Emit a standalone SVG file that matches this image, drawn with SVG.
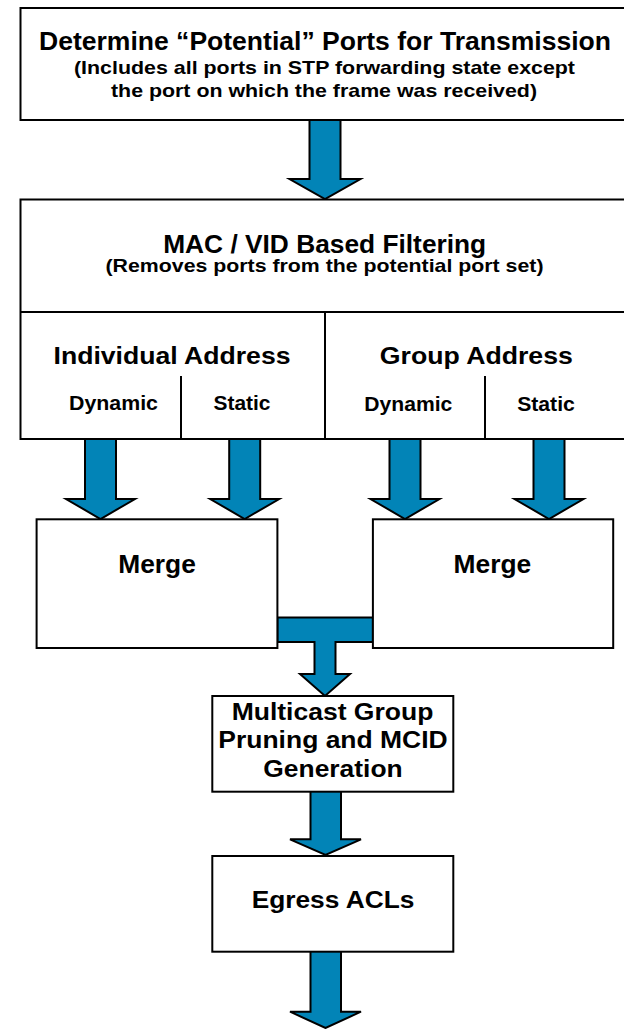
<svg xmlns="http://www.w3.org/2000/svg" width="624" height="1029" viewBox="0 0 624 1029">
<style>
.box{fill:#fff;stroke:#000;stroke-width:2}
.ln{stroke:#000;stroke-width:2;fill:none}
.arr{fill:#0284b7;stroke:#000;stroke-width:2;stroke-linejoin:miter}
text{font-family:"Liberation Sans",Arial,Helvetica,sans-serif;font-weight:bold;fill:#000;text-anchor:middle}
.h1{font-size:25px}
.s1{font-size:18.5px}
.h2{font-size:24.5px}
.sm{font-size:20.5px}
.mg{font-size:26px}
.bx{font-size:23.5px}
</style>
<rect width="624" height="1029" fill="#fff"/>
<g id="connectors">
<path class="arr" d="M309.5,120 V179 H289.5 L325,199 L360.5,179 H340.5 V120"/>
<path class="arr" d="M85,439 V499 H66 L100.5,519 L135,499 H116 V439"/>
<path class="arr" d="M229.2,439 V499 H210.2 L244.7,519 L279.2,499 H260.2 V439"/>
<path class="arr" d="M389.5,439 V499 H370.5 L405,519 L439.5,499 H420.5 V439"/>
<path class="arr" d="M533.5,439 V499 H514.5 L549,519 L583.5,499 H564.5 V439"/>
<path class="arr" d="M277.4,617.5 H372.9 V642 H335.5 V674 H350 L325,696 L300,674 H314.5 V642 H277.4 Z"/>
<path class="arr" d="M310.5,791.7 V839.3 H290 L325.5,855 L361,839.3 H341 V791.7"/>
<path class="arr" d="M310.5,951.7 V1011.7 H290 L325.5,1028 L361,1011.7 H341 V951.7"/>
</g>
<g id="potential">
<rect class="box" x="20.5" y="8" width="650" height="112"/>
<text class="h1" x="325" y="50" textLength="572" lengthAdjust="spacingAndGlyphs">Determine “Potential” Ports for Transmission</text>
<text class="s1" x="324.5" y="74" textLength="501" lengthAdjust="spacingAndGlyphs">(Includes all ports in STP forwarding state except</text>
<text class="s1" x="324" y="97" textLength="426" lengthAdjust="spacingAndGlyphs">the port on which the frame was received)</text>
</g>
<g id="filtering">
<rect class="box" x="20.5" y="199.5" width="650" height="239.5"/>
<line class="ln" x1="20.5" y1="312" x2="670" y2="312"/>
<line class="ln" x1="325" y1="312" x2="325" y2="439"/>
<line class="ln" x1="181" y1="376" x2="181" y2="439"/>
<line class="ln" x1="485" y1="376" x2="485" y2="439"/>
<text class="h1" x="324.7" y="252.5" textLength="323" lengthAdjust="spacingAndGlyphs">MAC / VID Based Filtering</text>
<text class="s1" x="324.5" y="272" textLength="438" lengthAdjust="spacingAndGlyphs">(Removes ports from the potential port set)</text>
</g>
<g id="individual">
<text class="h2" x="172" y="364" textLength="237" lengthAdjust="spacingAndGlyphs">Individual Address</text>
<text class="sm" x="113.5" y="410" textLength="89" lengthAdjust="spacingAndGlyphs">Dynamic</text>
<text class="sm" x="242" y="410" textLength="57" lengthAdjust="spacingAndGlyphs">Static</text>
</g>
<g id="group">
<text class="h2" x="476.3" y="364" textLength="193" lengthAdjust="spacingAndGlyphs">Group Address</text>
<text class="sm" x="408.3" y="410.5" textLength="88" lengthAdjust="spacingAndGlyphs">Dynamic</text>
<text class="sm" x="546" y="410.5" textLength="57.7" lengthAdjust="spacingAndGlyphs">Static</text>
</g>
<g id="merge1">
<rect class="box" x="36.6" y="519.3" width="240.8" height="128.7"/>
<text class="mg" x="157" y="572.7" textLength="77.6" lengthAdjust="spacingAndGlyphs">Merge</text>
</g>
<g id="merge2">
<rect class="box" x="372.9" y="519.3" width="240.3" height="128.7"/>
<text class="mg" x="492.4" y="572.7" textLength="77.6" lengthAdjust="spacingAndGlyphs">Merge</text>
</g>
<g id="multicast">
<rect class="box" x="212.3" y="696" width="241" height="95.7"/>
<text class="bx" x="332.5" y="720" textLength="201.7" lengthAdjust="spacingAndGlyphs">Multicast Group</text>
<text class="bx" x="333" y="748.3" textLength="229.3" lengthAdjust="spacingAndGlyphs">Pruning and MCID</text>
<text class="bx" x="333" y="776.7" textLength="139.3" lengthAdjust="spacingAndGlyphs">Generation</text>
</g>
<g id="egress">
<rect class="box" x="212.3" y="856" width="241" height="95.7"/>
<text class="bx" x="333" y="908.3" textLength="162.7" lengthAdjust="spacingAndGlyphs">Egress ACLs</text>
</g>
</svg>
